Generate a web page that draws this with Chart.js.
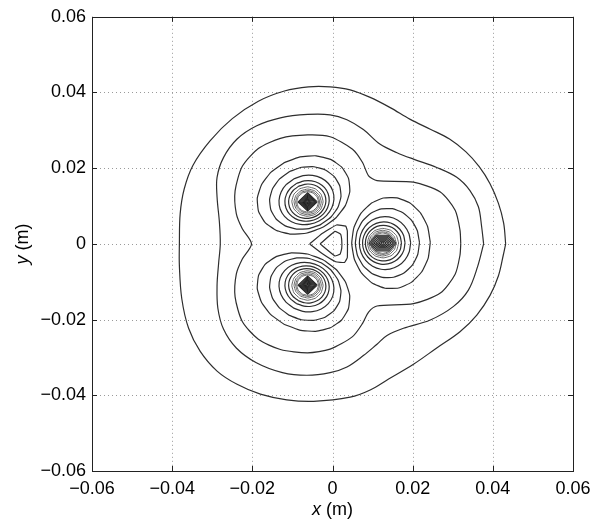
<!DOCTYPE html>
<html><head><meta charset="utf-8">
<script src="https://cdn.jsdelivr.net/npm/chart.js@4.4.1/dist/chart.umd.min.js"></script>
<style>html,body{margin:0;padding:0;background:#fff}#wrap{width:610px;height:522px;position:relative}</style>
</head><body><div id="wrap"><canvas id="c" width="610" height="522"></canvas></div>
<script>
// ---- axes ----
const xTickValues = [-0.06, -0.04, -0.02, 0, 0.02, 0.04, 0.06];
const yTickValues = [-0.06, -0.04, -0.02, 0, 0.02, 0.04, 0.06];
const xTickLabels = ['\u22120.06', '\u22120.04', '\u22120.02', '0', '0.02', '0.04', '0.06'];
const yTickLabels = ['\u22120.06', '\u22120.04', '\u22120.02', '0', '0.02', '0.04', '0.06'];
const xTitle = ['x', ' (m)'];
const yTitle = ['y', ' (m)'];

// ---- outer contour lines (metres) ----
const contour1X = [0.0432,0.0427,0.0414,0.0393,0.0366,0.0333,0.0292,0.0244,0.0194,0.0144,0.0094,0.0044,-0.0006,-0.0060,-0.0120,-0.0185,-0.0250,-0.0305,-0.0348,-0.0370,-0.0380,-0.0382,-0.0382,-0.0376,-0.0359,-0.0330,-0.0288,-0.0238,-0.0180,-0.0114,-0.0047,0.0044,0.0094,0.0140,0.0202,0.0260,0.0318,0.0360,0.0393,0.0414,0.0426,0.0432];
const contour1Y = [0.0000,0.0055,0.0107,0.0159,0.0204,0.0243,0.0277,0.0303,0.0329,0.0360,0.0387,0.0407,0.0415,0.0415,0.0404,0.0377,0.0331,0.0273,0.0208,0.0145,0.0080,0.0000,-0.0058,-0.0145,-0.0223,-0.0284,-0.0336,-0.0371,-0.0397,-0.0412,-0.0416,-0.0405,-0.0386,-0.0357,-0.0318,-0.0275,-0.0232,-0.0188,-0.0136,-0.0084,-0.0030,0.0000];

const contour2X = [0.0377,0.0372,0.0364,0.0343,0.0310,0.0260,0.0202,0.0161,0.0119,0.0077,0.0036,-0.0006,-0.0062,-0.0130,-0.0189,-0.0238,-0.0272,-0.0288,-0.0288,-0.0282,-0.0280,-0.0284,-0.0288,-0.0286,-0.0272,-0.0240,-0.0190,-0.0125,-0.0064,-0.0006,0.0036,0.0077,0.0111,0.0136,0.0177,0.0244,0.0302,0.0339,0.0362,0.0377];
const contour2Y = [0.0000,0.0046,0.0098,0.0141,0.0176,0.0202,0.0224,0.0241,0.0263,0.0302,0.0328,0.0341,0.0342,0.0333,0.0312,0.0277,0.0228,0.0176,0.0124,0.0055,0.0000,-0.0050,-0.0110,-0.0170,-0.0225,-0.0275,-0.0314,-0.0340,-0.0347,-0.0340,-0.0325,-0.0295,-0.0265,-0.0242,-0.0223,-0.0201,-0.0165,-0.0122,-0.0060,0.0000];

const contour3X = [0.0320,0.0318,0.0306,0.0269,0.0202,0.0111,0.0090,0.0075,0.0050,-0.0006,-0.0062,-0.0130,-0.0185,-0.0225,-0.0243,-0.0240,-0.0225,-0.0202,-0.0225,-0.0240,-0.0243,-0.0225,-0.0185,-0.0130,-0.0062,-0.0006,0.0050,0.0075,0.0090,0.0111,0.0202,0.0269,0.0306,0.0318,0.0320];
const contour3Y = [0.0000,0.0037,0.0089,0.0137,0.0163,0.0167,0.0180,0.0215,0.0250,0.0283,0.0288,0.0279,0.0252,0.0205,0.0140,0.0080,0.0040,0.0000,-0.0040,-0.0080,-0.0140,-0.0205,-0.0252,-0.0279,-0.0288,-0.0278,-0.0245,-0.0210,-0.0180,-0.0164,-0.0158,-0.0130,-0.0080,-0.0030,0.0000];

// small closed contours round the centre
const centreOuterX = [-0.0057,-0.0025,0.0010,0.0033,0.0037,0.0037,0.0030,0.0008,-0.0025,-0.0057];
const centreOuterY = [0.0000,0.0028,0.0050,0.0047,0.0034,-0.0036,-0.0049,-0.0047,-0.0026,0.0000];
const centreInnerX = [-0.0031,0.0006,0.0020,0.0023,0.0023,0.0019,0.0006,-0.0031];
const centreInnerY = [0.0000,0.0033,0.0026,0.0010,-0.0012,-0.0027,-0.0032,0.0000];

// ---- conductors and their ring contours ----
const conductorX = [-0.0062, -0.0062, 0.0125];
const conductorY = [0.0111, -0.0109, 0.0002];
// ring semi-axis along the radial direction, semi-axis across it, outward shift of the ring centre
const ringRadial = [0.0098, 0.0080, 0.0064, 0.0053, 0.0045, 0.0039, 0.0034, 0.0030, 0.0027];
const ringAcross = [0.0121, 0.0092, 0.0070, 0.0056, 0.0047, 0.0039, 0.0034, 0.0030, 0.0027];
const ringShift  = [0.0021, 0.0012, 0.0006, 0.0003, 0.0002, 0.0001, 0.0000, 0.0000, 0.0000];
const coreRadius = [0.0024, 0.0021, 0.0018, 0.0015, 0.0012, 0.0009, 0.0006, 0.0003];
const coreWiden  = [1.0, 1.0, 1.4];

function pairs(xs, ys) { return xs.map((x, i) => ({ x: x, y: ys[i] })); }
function ring(cx, cy, a, b, shift, n) {
  const d = Math.hypot(cx, cy), ux = cx / d, uy = cy / d, vx = -uy, vy = ux;
  const ox = cx + ux * shift, oy = cy + uy * shift, pts = [];
  for (let k = 0; k <= n; k++) {
    const t = 2 * Math.PI * k / n, c = Math.cos(t), s = Math.sin(t);
    pts.push({ x: ox + a * c * ux + b * s * vx, y: oy + a * c * uy + b * s * vy });
  }
  return pts;
}
function core(cx, cy, r, n, widen) {
  const pts = [];
  for (let k = 0; k <= n; k++) { const t = 2 * Math.PI * k / n; pts.push({ x: cx + widen * r * Math.cos(t), y: cy + r * Math.sin(t) }); }
  return pts;
}
const LINE = '#2e2e2e';
function ds(data, tension, color, width) {
  return { data: data, showLine: true, pointRadius: 0, borderColor: color || LINE, borderWidth: width || 1.2, tension: tension, fill: false };
}
const datasets = [
  ds(pairs(contour1X, contour1Y), 0.35),
  ds(pairs(contour2X, contour2Y), 0.35),
  ds(pairs(contour3X, contour3Y), 0.25),
  ds(pairs(centreOuterX, centreOuterY), 0.1),
  ds(pairs(centreInnerX, centreInnerY), 0.1)
];
for (let i = 0; i < conductorX.length; i++) {
  for (let j = 0; j < ringRadial.length; j++) {
    const inner = j >= 5;
    datasets.push(ds(ring(conductorX[i], conductorY[i], ringRadial[j], ringAcross[j], ringShift[j], inner ? 12 : 18), 0.15, inner ? '#555' : LINE, inner ? 0.9 : 1.2));
  }
  for (let j = 0; j < coreRadius.length; j++) datasets.push(ds(core(conductorX[i], conductorY[i], coreRadius[j], i === 2 ? 6 : 4, coreWiden[i]), 0, '#222', 1.1));
}

const FAM = "'Liberation Sans', Arial, sans-serif";
const frame = {
  id: 'frame',
  beforeDatasetsDraw(chart) {
    const { ctx, chartArea: a, scales: { x, y } } = chart;
    ctx.save();
    ctx.strokeStyle = '#9a9a9a'; ctx.lineWidth = 1; ctx.setLineDash([1, 3]);
    xTickValues.slice(1, -1).forEach(v => { const p = Math.round(x.getPixelForValue(v)) + 0.5; ctx.beginPath(); ctx.moveTo(p, a.top); ctx.lineTo(p, a.bottom); ctx.stroke(); });
    yTickValues.slice(1, -1).forEach(v => { const p = Math.round(y.getPixelForValue(v)) + 0.5; ctx.beginPath(); ctx.moveTo(a.left, p); ctx.lineTo(a.right, p); ctx.stroke(); });
    ctx.restore();
  },
  afterDatasetsDraw(chart) {
    const { ctx, chartArea: a, scales: { x, y } } = chart;
    ctx.save();
    ctx.strokeStyle = '#222'; ctx.lineWidth = 1; ctx.setLineDash([]);
    ctx.strokeRect(Math.round(a.left) + 0.5, Math.round(a.top) + 0.5, Math.round(a.right - a.left), Math.round(a.bottom - a.top));
    const t = 5;
    ctx.beginPath();
    xTickValues.forEach(v => { const p = Math.round(x.getPixelForValue(v)) + 0.5; ctx.moveTo(p, a.bottom); ctx.lineTo(p, a.bottom - t); ctx.moveTo(p, a.top); ctx.lineTo(p, a.top + t); });
    yTickValues.forEach(v => { const p = Math.round(y.getPixelForValue(v)) + 0.5; ctx.moveTo(a.left, p); ctx.lineTo(a.left + t, p); ctx.moveTo(a.right, p); ctx.lineTo(a.right - t, p); });
    ctx.stroke();
    // axis titles
    ctx.fillStyle = '#000'; ctx.textBaseline = 'middle'; ctx.textAlign = 'left';
    ctx.font = 'italic 18px ' + FAM; const w1 = ctx.measureText(xTitle[0]).width;
    ctx.font = '18px ' + FAM; const w2 = ctx.measureText(xTitle[1]).width;
    let sx = (a.left + a.right) / 2 - (w1 + w2) / 2; const ty = 510;
    ctx.font = 'italic 18px ' + FAM; ctx.fillText(xTitle[0], sx, ty);
    ctx.font = '18px ' + FAM; ctx.fillText(xTitle[1], sx + w1, ty);
    ctx.translate(23, (a.top + a.bottom) / 2); ctx.rotate(-Math.PI / 2);
    ctx.font = 'italic 18px ' + FAM; const v1 = ctx.measureText(yTitle[0]).width;
    ctx.font = '18px ' + FAM; const v2 = ctx.measureText(yTitle[1]).width;
    sx = -(v1 + v2) / 2;
    ctx.font = 'italic 18px ' + FAM; ctx.fillText(yTitle[0], sx, 0);
    ctx.font = '18px ' + FAM; ctx.fillText(yTitle[1], sx + v1, 0);
    ctx.restore();
  }
};

Chart.defaults.font.family = FAM;
Chart.defaults.font.size = 18;
Chart.defaults.color = '#000';
new Chart(document.getElementById('c'), {
  type: 'scatter',
  data: { datasets: datasets },
  options: {
    responsive: false, animation: false, devicePixelRatio: 1,
    layout: { padding: { left: 0, top: 11, right: 37, bottom: 0 } },
    plugins: { legend: { display: false }, tooltip: { enabled: false } },
    scales: {
      x: {
        type: 'linear', min: -0.06, max: 0.06,
        afterBuildTicks: s => { s.ticks = xTickValues.map(v => ({ value: v })); },
        afterFit: s => { s.height = 51; },
        ticks: { padding: 7, maxRotation: 0, autoSkip: false, callback: (v, i) => xTickLabels[i] },
        grid: { display: false, drawTicks: false }, border: { display: false }
      },
      y: {
        type: 'linear', min: -0.06, max: 0.06,
        afterBuildTicks: s => { s.ticks = yTickValues.map(v => ({ value: v })); },
        afterFit: s => { s.width = 92; },
        ticks: { padding: 6, autoSkip: false, callback: (v, i) => yTickLabels[i] },
        grid: { display: false, drawTicks: false }, border: { display: false }
      }
    }
  },
  plugins: [frame]
});
</script></body></html>
